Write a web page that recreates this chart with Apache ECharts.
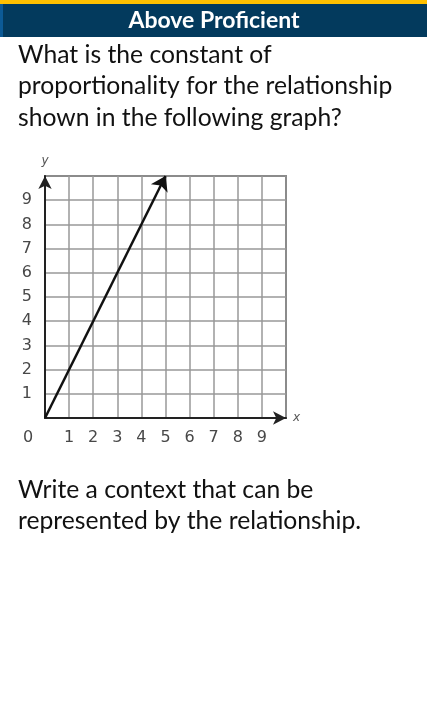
<!DOCTYPE html>
<html>
<head>
<meta charset="utf-8">
<script src="https://cdn.jsdelivr.net/npm/echarts@6/dist/echarts.min.js"></script>
<style>
  html, body { margin: 0; padding: 0; background: #ffffff; }
  #main { width: 427px; height: 720px; }
</style>
</head>
<body>
<div id="main"></div>
<script>
// Header and prompt text
const headerTitle = 'Above Proficient';
const questionLines = [
  'What is the constant of',
  'proportionality for the relationship',
  'shown in the following graph?'
];
const followUpLines = [
  'Write a context that can be',
  'represented by the relationship.'
];

// Axes: tick labels and ranges
const xTicks = [1, 2, 3, 4, 5, 6, 7, 8, 9];
const yTicks = [1, 2, 3, 4, 5, 6, 7, 8, 9];
const axisMin = 0;
const axisMax = 10;
const originLabel = '0';

// Proportional relationship y = 2x, drawn from the origin to its arrow tip
const lineStart = [0, 0];
const lineEnd = [5, 10];

const chart = echarts.init(document.getElementById('main'), null, { renderer: 'canvas' });

const textFont = 'Lato, "Open Sans", sans-serif';
const tickFont = '"DejaVu Sans", Verdana, sans-serif';

function textBlock(lines, x, y0, step) {
  return lines.map((t, i) => ({
    type: 'text',
    x: x,
    y: y0 + i * step,
    style: {
      text: t,
      fill: '#111111',
      font: '24.7px ' + textFont,
      textVerticalAlign: 'middle'
    }
  }));
}

const option = {
  animation: false,
  grid: { left: 45, top: 176, width: 241, height: 242, show: true, borderColor: '#333', borderWidth: 1.5, backgroundColor: 'transparent' },
  xAxis: {
    type: 'value', min: axisMin, max: axisMax, interval: 1,
    name: 'x', nameLocation: 'end', nameGap: 7,
    nameTextStyle: { fontStyle: 'italic', color: '#555', fontSize: 12, fontFamily: tickFont, verticalAlign: 'middle' },
    axisLine: { show: true, onZero: false, lineStyle: { color: '#222', width: 2 }, symbol: ['none', 'arrow'], symbolSize: [10, 13] },
    axisTick: { show: false },
    splitLine: { show: true, lineStyle: { color: '#999', width: 1.5 } },
    axisLabel: {
      margin: 12, color: '#484848', fontSize: 16, fontFamily: tickFont,
      formatter: v => (xTicks.indexOf(v) >= 0 ? String(v) : '')
    }
  },
  yAxis: {
    type: 'value', min: axisMin, max: axisMax, interval: 1,
    name: 'y', nameLocation: 'end', nameGap: 9,
    nameTextStyle: { fontStyle: 'italic', color: '#555', fontSize: 12, fontFamily: tickFont, align: 'center' },
    axisLine: { show: true, onZero: false, lineStyle: { color: '#222', width: 2 }, symbol: ['none', 'arrow'], symbolSize: [10, 13] },
    axisTick: { show: false },
    splitLine: { show: true, lineStyle: { color: '#999', width: 1.5 } },
    axisLabel: {
      margin: 13, color: '#484848', fontSize: 16, fontFamily: tickFont,
      formatter: v => (yTicks.indexOf(v) >= 0 ? String(v) : '')
    }
  },
  series: [{
    type: 'lines',
    coordinateSystem: 'cartesian2d',
    symbol: ['none', 'arrow'],
    symbolSize: [12, 14],
    lineStyle: { color: '#111', width: 2.5, opacity: 1 },
    data: [{ coords: [lineStart, lineEnd] }],
    z: 5
  }]
};
chart.setOption(option);

const origin = chart.convertToPixel({ gridIndex: 0 }, [0, 0]);

chart.setOption({
  graphic: [
    { type: 'rect', shape: { x: 0, y: 0, width: 427, height: 4 }, style: { fill: '#ffc000' } },
    { type: 'rect', shape: { x: 0, y: 4, width: 427, height: 33 }, style: { fill: '#033a5d' } },
    { type: 'rect', shape: { x: 0, y: 4, width: 3, height: 33 }, style: { fill: '#0c5a96' } },
    {
      type: 'text', x: 214, y: 21,
      style: { text: headerTitle, fill: '#ffffff', font: 'bold 23px ' + textFont, textAlign: 'center', textVerticalAlign: 'middle' }
    },
    ...textBlock(questionLines, 18, 55, 31.5),
    ...textBlock(followUpLines, 18, 490, 31),
    {
      type: 'text', x: origin[0] - 17, y: origin[1] + 20,
      style: { text: originLabel, fill: '#484848', font: '16px ' + tickFont, textAlign: 'center', textVerticalAlign: 'middle' }
    }
  ]
});
</script>
</body>
</html>
